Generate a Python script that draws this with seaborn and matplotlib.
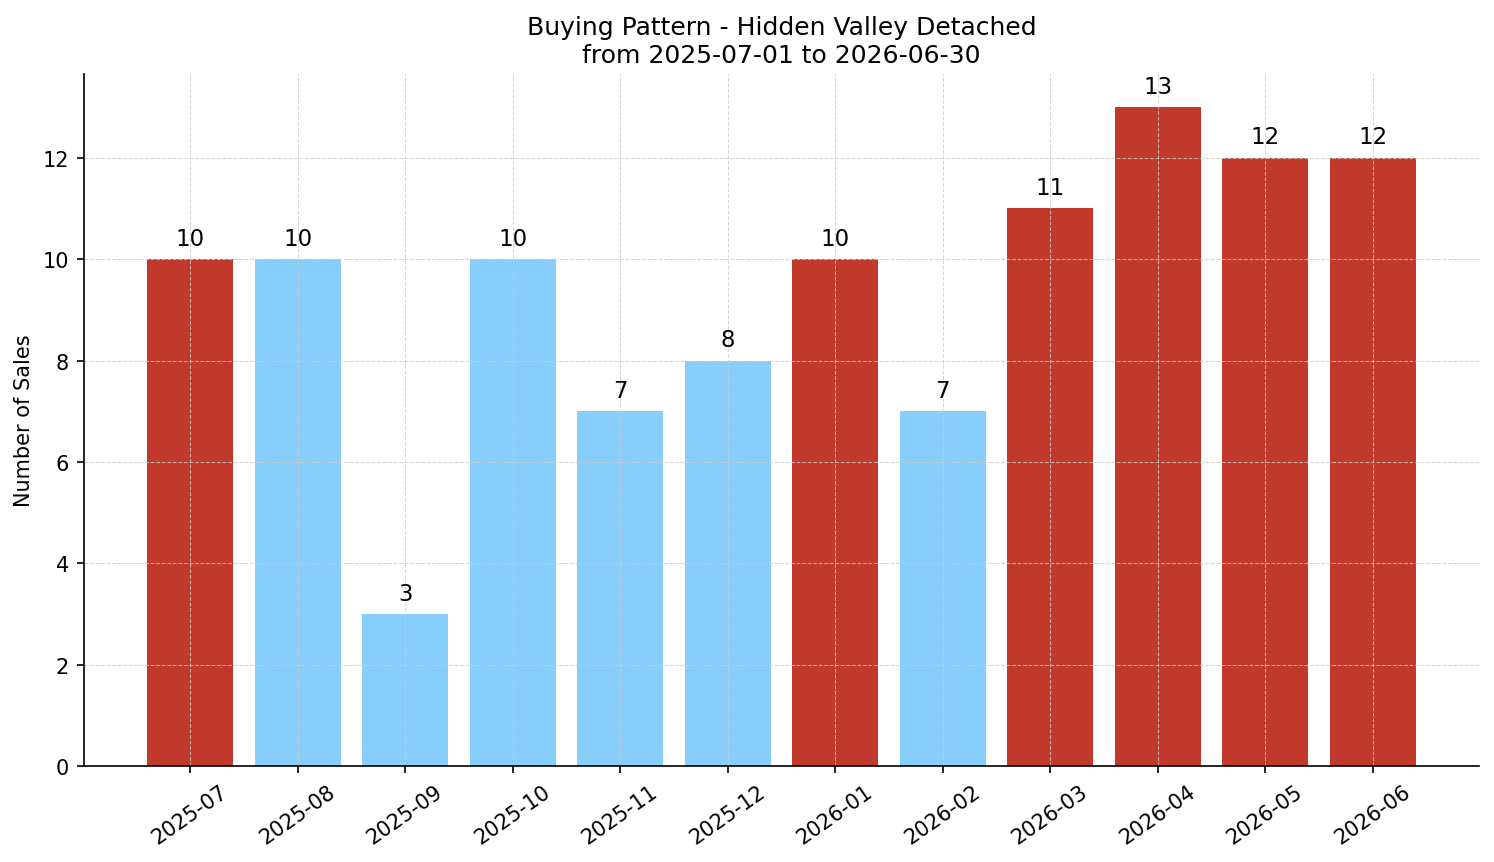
import matplotlib
matplotlib.use("Agg")
import matplotlib.pyplot as plt
import seaborn as sns
import pandas as pd

# datos del grafico
meses = ['2025-07', '2025-08', '2025-09', '2025-10', '2025-11', '2025-12',
         '2026-01', '2026-02', '2026-03', '2026-04', '2026-05', '2026-06']
ventas = [10, 10, 3, 10, 7, 8, 10, 7, 11, 13, 12, 12]
destacado = [True, False, False, False, False, False, True, False, True, True, True, True]

df = pd.DataFrame({'Mes': meses, 'Ventas': ventas, 'Destacado': destacado})

colores = ['#c0392b' if d else '#87cefa' for d in destacado]

fig, ax = plt.subplots(figsize=(9.96, 5.753), dpi=150)
sns.barplot(data=df, x='Mes', y='Ventas', hue='Mes', palette=colores,
            width=0.8, saturation=1, legend=False, ax=ax)

# etiquetas encima de cada barra
for cont in ax.containers:
    ax.bar_label(cont, padding=4.5, fontsize=11)

ax.set_xlim(-0.99, len(meses) - 0.01)
ax.set_ylim(0, max(ventas) * 1.05)
ax.set_title('Buying Pattern - Hidden Valley Detached\nfrom 2025-07-01 to 2026-06-30', fontsize=12)
ax.set_xlabel('')
ax.set_ylabel('Number of Sales', fontsize=10)
ax.tick_params(axis='both', labelsize=10)
plt.xticks(rotation=35)
ax.grid(True, linestyle='--', color='#cccccc', alpha=0.8, linewidth=0.5)
ax.spines['top'].set_visible(False)
ax.spines['right'].set_visible(False)

plt.subplots_adjust(left=0.056, right=0.99, top=0.913, bottom=0.111)
plt.savefig('out.png', dpi=150)
